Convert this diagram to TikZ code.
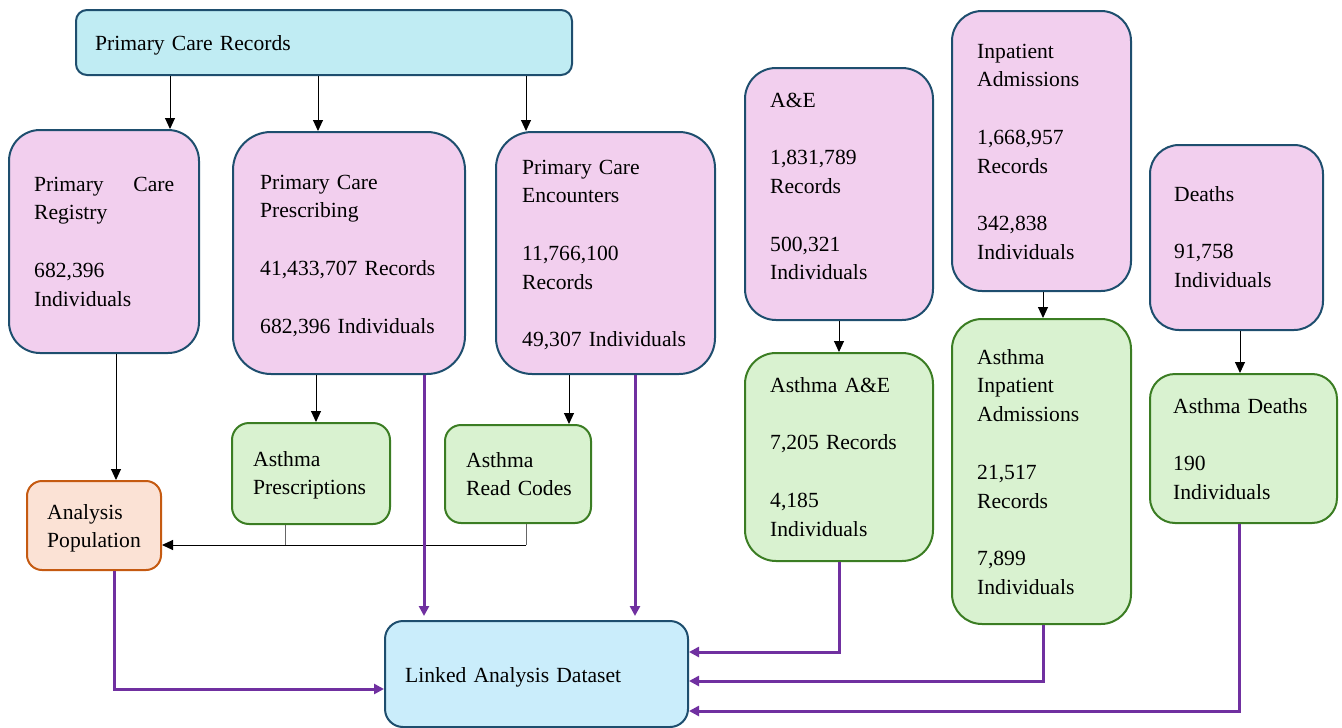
\documentclass[tikz,border=0pt]{standalone}
\usepackage{fontspec}
\setmainfont{Liberation Serif}
\usetikzlibrary{arrows.meta}
\definecolor{pinkfill}{HTML}{F2CFEE}
\definecolor{darkedge}{HTML}{1E4E6E}
\definecolor{greenfill}{HTML}{D9F2D0}
\definecolor{greenedge}{HTML}{3B7D23}
\definecolor{cyanfill}{HTML}{C0ECF3}
\definecolor{bluefill}{HTML}{CAEDFB}
\definecolor{peachfill}{HTML}{FBE2D5}
\definecolor{orangeedge}{HTML}{C55A11}
\definecolor{linkpurple}{HTML}{7030A0}
\tikzset{
  box/.style={draw, line width=2pt, inner sep=0pt},
  pinkbox/.style={box, fill=pinkfill, draw=darkedge},
  greenbox/.style={box, fill=greenfill, draw=greenedge},
  txt/.style={inner sep=0pt, anchor=base west, align=left, text width=#1,
    font=\fontsize{21.6}{28.8}\selectfont},
  blk/.style={line width=1pt, -{Triangle[length=11pt,width=10pt]}},
  greyline/.style={line width=1pt, draw=black!60},
  purp/.style={line width=3pt, draw=linkpurple, -{Triangle[length=10pt,width=10pt]}},
}
\begin{document}
\begin{tikzpicture}[x=1pt,y=-1pt]
\useasboundingbox (0,0) rectangle (1342,728);
% boxes
\node[box, fill=cyanfill, draw=darkedge, rounded corners=11pt, minimum width=496pt, minimum height=65pt] (PCR) at (324,42.5) {};
\node[pinkbox, rounded corners=31pt, minimum width=190pt, minimum height=223pt] (Reg) at (104,241.5) {};
\node[pinkbox, rounded corners=38pt, minimum width=232pt, minimum height=242pt] (Presc) at (349,253) {};
\node[pinkbox, rounded corners=36pt, minimum width=219pt, minimum height=242pt] (Enc) at (605.5,253) {};
\node[pinkbox, rounded corners=31pt, minimum width=188pt, minimum height=252pt] (AE) at (839,194) {};
\node[pinkbox, rounded corners=30pt, minimum width=179pt, minimum height=280pt] (Inp) at (1041.5,151) {};
\node[pinkbox, rounded corners=29pt, minimum width=173pt, minimum height=185pt] (Dea) at (1236.5,237.5) {};
\node[greenbox, rounded corners=17pt, minimum width=158pt, minimum height=101pt] (AsPresc) at (311,473.5) {};
\node[greenbox, rounded corners=16pt, minimum width=146pt, minimum height=98pt] (AsRead) at (518,474) {};
\node[greenbox, rounded corners=31pt, minimum width=188pt, minimum height=208pt] (AsAE) at (839,457) {};
\node[greenbox, rounded corners=30pt, minimum width=179pt, minimum height=305pt] (AsInp) at (1041.5,471.5) {};
\node[greenbox, rounded corners=25pt, minimum width=187pt, minimum height=149pt] (AsDea) at (1243.5,448.5) {};
\node[box, fill=peachfill, draw=orangeedge, rounded corners=15pt, minimum width=134pt, minimum height=89pt] (AnPop) at (94,525.5) {};
\node[box, fill=bluefill, draw=darkedge, rounded corners=18pt, minimum width=303pt, minimum height=106pt] (Lnk) at (536.5,674) {};
% texts
\node[txt=300pt] (PCRt) at (95,50) {Primary Care Records};
\node[txt=140pt] (Regt) at (34,191) {Primary\hfill Care\\Registry\\[28.8pt]682,396\\Individuals};
\node[txt=200pt] (Presct) at (260,189) {Primary Care\\Prescribing\\[28.8pt]41,433,707 Records\\[28.8pt]682,396 Individuals};
\node[txt=190pt] (Enct) at (522,174) {Primary Care\\Encounters\\[28.8pt]11,766,100\\Records\\[28.8pt]49,307 Individuals};
\node[txt=160pt] (AEt) at (770,107) {A\&E\\[28.8pt]1,831,789\\Records\\[28.8pt]500,321\\Individuals};
\node[txt=150pt] (Inpt) at (977,58) {Inpatient\\Admissions\\[28.8pt]1,668,957\\Records\\[28.8pt]342,838\\Individuals};
\node[txt=145pt] (Deat) at (1174,201) {Deaths\\[28.8pt]91,758\\Individuals};
\node[txt=140pt] (AsPresct) at (253,466) {Asthma\\Prescriptions};
\node[txt=130pt] (AsReadt) at (466,467) {Asthma\\Read Codes};
\node[txt=160pt] (AsAEt) at (770,392) {Asthma A\&E\\[28.8pt]7,205 Records\\[28.8pt]4,185\\Individuals};
\node[txt=150pt] (AsInpt) at (977,364) {Asthma\\Inpatient\\Admissions\\[28.8pt]21,517\\Records\\[28.8pt]7,899\\Individuals};
\node[txt=160pt] (AsDeat) at (1173,413) {Asthma Deaths\\[28.8pt]190\\Individuals};
\node[txt=110pt] (AnPopt) at (47,519) {Analysis\\Population};
\node[txt=260pt] (Lnkt) at (405,682) {Linked Analysis Dataset};
% helper coordinates
\coordinate (c1) at ([xshift=66pt]Reg.north);
\coordinate (c2) at ([xshift=-31pt]Presc.north);
\coordinate (c3) at ([xshift=-79.5pt]Enc.north);
\coordinate (c4) at ([xshift=12pt]Reg.south);
\coordinate (c5) at ([xshift=-33pt]Presc.south);
\coordinate (c6) at ([xshift=-36.5pt]Enc.south);
\coordinate (c7) at ([xshift=-26pt]AsPresc.south);
\coordinate (c8) at ([xshift=8pt]AsRead.south);
\coordinate (apin) at ([yshift=-19.5pt]AnPop.east);
\coordinate (c9) at ([xshift=3.5pt]Dea.south);
\coordinate (p1) at ([xshift=75pt]Presc.south);
\coordinate (p2) at ([xshift=29.5pt]Enc.south);
\coordinate (p3) at ([xshift=20pt]AnPop.south);
\coordinate (p4) at ([xshift=-4.5pt]AsDea.south);
% black connectors
\draw[blk] (c1 |- PCR.south) -- (c1);
\draw[blk] (c2 |- PCR.south) -- (c2);
\draw[blk] (c3 |- PCR.south) -- (c3);
\draw[blk] (c4) -- (c4 |- AnPop.north);
\draw[blk] (c5) -- (c5 |- AsPresc.north);
\draw[blk] (c6) -- (c6 |- AsRead.north);
\draw[greyline] (c7) -- (c7 |- apin);
\draw[greyline] (c8) -- (c8 |- apin);
\draw[blk] (c8 |- apin) -- (apin);
\draw[blk] (AE.south) -- (AsAE.north);
\draw[blk] ([xshift=1.5pt]Inp.south) -- ([xshift=1.5pt]AsInp.north);
\draw[blk] (c9) -- (c9 |- AsDea.north);
% purple connectors
\draw[purp, shorten >=4pt] (p1) -- (p1 |- Lnk.north);
\draw[purp, shorten >=4pt] (p2) -- (p2 |- Lnk.north);
\draw[purp] (p3) |- ([yshift=-15pt]Lnk.west);
\draw[purp] (AsAE.south) |- ([yshift=22pt]Lnk.east);
\draw[purp] ([xshift=1.5pt]AsInp.south) |- ([yshift=-7pt]Lnk.east);
\draw[purp] (p4) |- ([yshift=-37pt]Lnk.east);
\end{tikzpicture}
\end{document}
